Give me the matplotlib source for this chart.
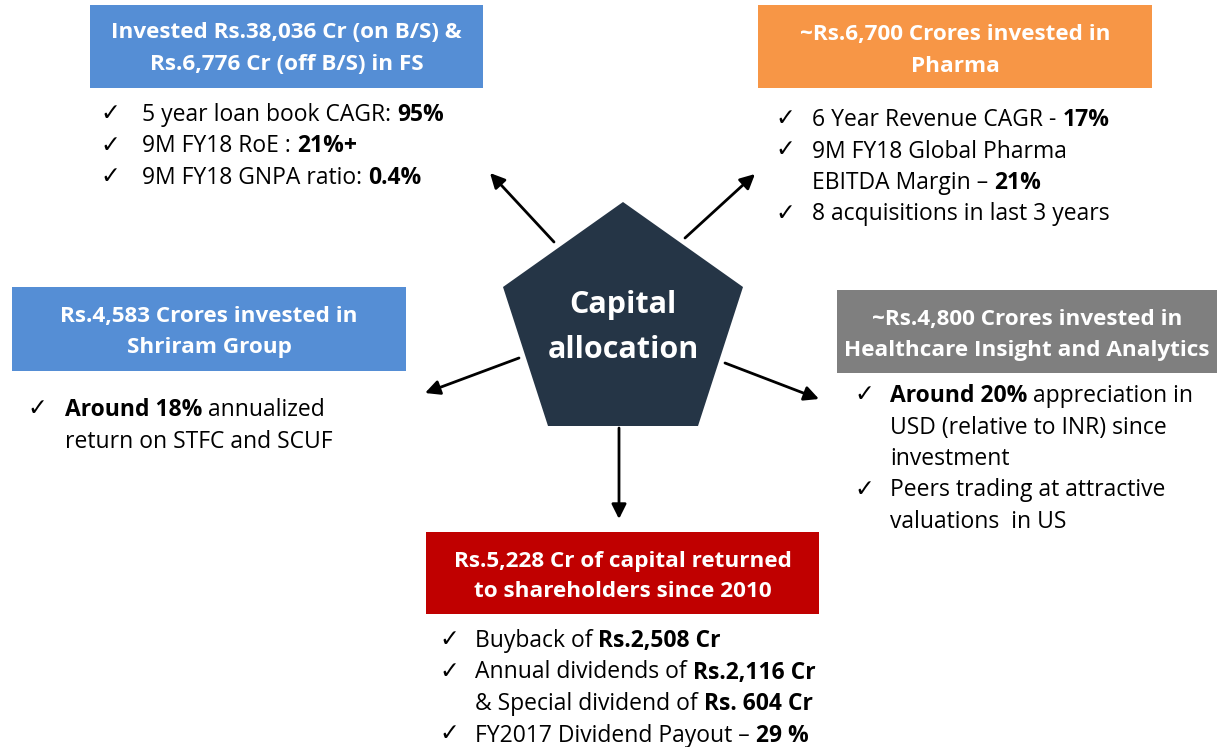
import matplotlib.pyplot as plt
from matplotlib.patches import Rectangle, Polygon

W, H = 1217, 747
FONT = "Open Sans"

# ---- content -------------------------------------------------------------
centre_label = ["Capital", "allocation"]

fs_title = ["Invested Rs.38,036 Cr (on B/S) &", "Rs.6,776 Cr (off B/S) in FS"]
fs_points = [
    [[("5 year loan book CAGR: ", 0), ("95%", 1)]],
    [[("9M FY18 RoE : ", 0), ("21%+", 1)]],
    [[("9M FY18 GNPA ratio: ", 0), ("0.4%", 1)]],
]

pharma_title = ["~Rs.6,700 Crores invested in", "Pharma"]
pharma_points = [
    [[("6 Year Revenue CAGR - ", 0), ("17%", 1)]],
    [[("9M FY18 Global Pharma", 0)], [("EBITDA Margin \u2013 ", 0), ("21%", 1)]],
    [[("8 acquisitions in last 3 years", 0)]],
]

shriram_title = ["Rs.4,583 Crores invested in", "Shriram Group"]
shriram_points = [
    [[("Around 18%", 1), (" annualized", 0)], [("return on STFC and SCUF", 0)]],
]

health_title = ["~Rs.4,800 Crores invested in", "Healthcare Insight and Analytics"]
health_points = [
    [[("Around 20%", 1), (" appreciation in", 0)],
     [("USD (relative to INR) since", 0)], [("investment", 0)]],
    [[("Peers trading at attractive", 0)], [("valuations  in US", 0)]],
]

return_title = ["Rs.5,228 Cr of capital returned", "to shareholders since 2010"]
return_points = [
    [[("Buyback of ", 0), ("Rs.2,508 Cr", 1)]],
    [[("Annual dividends of ", 0), ("Rs.2,116 Cr", 1)],
     [("& Special dividend of ", 0), ("Rs. 604 Cr", 1)]],
    [[("FY2017 Dividend Payout \u2013 ", 0), ("29 %", 1)]],
]

# ---- layout (pixel coordinates, y downwards) ------------------------------
# (title, points, colour, box x0, x1, y0, y1, title baselines, check x, text x, first baseline)
panels = [
    (fs_title, fs_points, "#558ED5", 90, 483, 5, 88, (38, 70), 110, 142, 121),
    (pharma_title, pharma_points, "#F79646", 758, 1152, 5, 88, (40, 72), 785, 812, 126),
    (shriram_title, shriram_points, "#558ED5", 12, 406, 287, 371, (322, 353), 37, 65, 416),
    (health_title, health_points, "#7F7F7F", 837, 1230, 290, 373, (325, 356), 864, 890, 402),
    (return_title, return_points, "#C00000", 426, 819, 532, 614, (567, 597), 449, 475, 647),
]
LINE = 31.5

pentagon = [(623, 202), (743, 287), (698, 426), (548, 426), (503, 287)]
arrows = [((554, 242), (490, 173)), ((685, 238), (755, 174)),
          ((519, 358), (425, 393)), ((725, 363), (819, 399)),
          ((619, 428), (619, 519))]

fig = plt.figure(figsize=(W / 100, H / 100), dpi=100)
ax = fig.add_axes([0, 0, 1, 1])
ax.set_xlim(0, W)
ax.set_ylim(H, 0)
ax.axis("off")
renderer = fig.canvas.get_renderer()


def text_width(s, **kw):
    t = ax.text(0, 0, s + "|", **kw)
    t2 = ax.text(0, 0, "|", **kw)
    w = t.get_window_extent(renderer).width - t2.get_window_extent(renderer).width
    t.remove()
    t2.remove()
    return w


body = dict(fontsize=16.5, family=FONT, color="black", va="baseline", ha="left")

for title, points, colour, x0, x1, y0, y1, tb, cx, tx, base in panels:
    ax.add_patch(Rectangle((x0, y0), x1 - x0, y1 - y0, facecolor=colour,
                           edgecolor="none", clip_on=False))
    xc = (x0 + min(x1, W)) / 2
    for line, yb in zip(title, tb):
        ax.text(xc, yb, line, color="white", fontsize=16.2, fontweight="bold",
                family=FONT, ha="center", va="baseline")
    y = base
    for item in points:
        for j, segs in enumerate(item):
            if j == 0:
                ax.text(cx, y - 1, "\u2713", fontsize=17, family="DejaVu Sans",
                        color="black", ha="center", va="baseline")
            x = tx
            for s, bold in segs:
                kw = dict(body, fontweight="bold" if bold else "normal")
                ax.text(x, y, s, **kw)
                x += text_width(s, **kw)
            y += LINE

ax.add_patch(Polygon(pentagon, closed=True, facecolor="#253546", edgecolor="none"))
ax.text(623, 313, centre_label[0], color="white", fontsize=22, fontweight="bold",
        family=FONT, ha="center", va="baseline")
ax.text(623, 358, centre_label[1], color="white", fontsize=22, fontweight="bold",
        family=FONT, ha="center", va="baseline")

for start, end in arrows:
    ax.annotate("", xy=end, xytext=start,
                arrowprops=dict(arrowstyle="-|>", mutation_scale=22, lw=2,
                                color="black", shrinkA=0, shrinkB=0))

fig.savefig("out.png", dpi=100)
